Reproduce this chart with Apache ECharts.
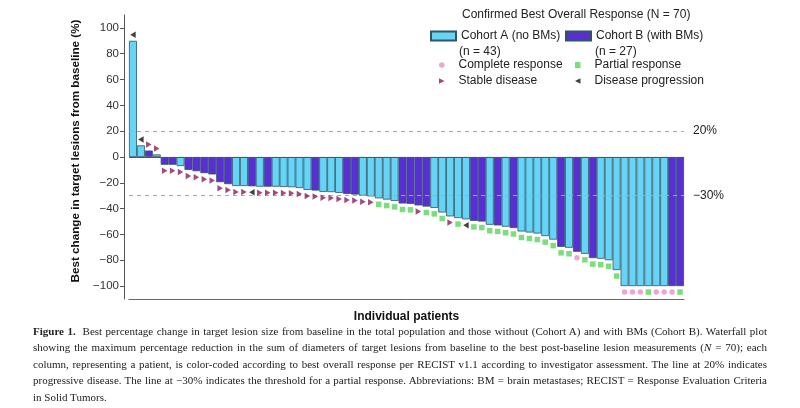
<!DOCTYPE html>
<html>
<head>
<meta charset="utf-8">
<script src="https://cdn.jsdelivr.net/npm/echarts@6/dist/echarts.min.js"></script>
<style>
  html, body { margin: 0; padding: 0; background: #fff; }
  #wrap { position: relative; width: 800px; height: 408px; overflow: hidden; }
  #chart { position: absolute; left: 0; top: 0; width: 800px; height: 408px; }
  #caption { position: absolute; left: 33px; top: 323px; width: 734px; font-family: "Liberation Serif", "DejaVu Serif", serif; font-size: 11px; line-height: 16.4px; color: #222; }
  #caption .l { text-align: justify; text-align-last: justify; white-space: normal; }
  #caption .last { text-align: left; }
</style>
</head>
<body>
<div id="wrap">
  <div id="chart"></div>
  <div id="caption">
    <div class="l"><b>Figure 1.</b>&nbsp; Best percentage change in target lesion size from baseline in the total population and those without (Cohort A) and with BMs (Cohort B). Waterfall plot</div>
    <div class="l">showing the maximum percentage reduction in the sum of diameters of target lesions from baseline to the best post-baseline lesion measurements (<i>N</i> = 70); each</div>
    <div class="l">column, representing a patient, is color-coded according to best overall response per RECIST v1.1 according to investigator assessment. The line at 20% indicates</div>
    <div class="l">progressive disease. The line at −30% indicates the threshold for a partial response. Abbreviations: BM = brain metastases; RECIST = Response Evaluation Criteria</div>
    <div class="last">in Solid Tumors.</div>
  </div>
</div>
<script>
// ---- Data ----
const bestChange = [
  90, 9, 5, 2, -6, -6, -7, -10, -11, -12.5,
  -13.5, -19.5, -21, -22.5, -22.5, -22.7, -23, -23, -23, -23.2,
  -23.4, -24, -25.5, -26, -27, -27.2, -27.8, -28.6, -29.1, -30,
  -30.5, -32, -33, -34, -36, -36.3, -37.5, -38.4, -39.4, -43,
  -46, -47.3, -48.3, -49.5, -50, -52.5, -53, -54, -55, -57.7,
  -58.5, -59.3, -61.3, -64, -69.6, -70.3, -73.4, -75, -78.3, -78.8,
  -80, -87.6, -100, -100, -100, -100, -100, -100, -100, -100
];
const cohort = [
  'A','A','B','A','B','B','A','B','B','B',
  'B','B','B','A','A','B','A','B','A','A',
  'A','A','A','B','A','A','A','B','B','A',
  'A','A','A','A','B','B','B','B','A','A',
  'A','A','A','B','B','A','B','A','B','A',
  'A','A','A','A','B','A','B','A','B','A',
  'A','A','A','A','A','A','A','A','B','B'
];
const response = [
  'PD','PD','SD','SD','SD','SD','SD','SD','SD','SD',
  'SD','SD','SD','SD','SD','PD','SD','SD','SD','SD',
  'SD','SD','SD','SD','SD','SD','SD','SD','SD','SD',
  'SD','PR','PR','PR','PR','PR','SD','PR','PR','PR',
  'SD','PR','PD','PR','PR','PR','PR','PR','PR','PR',
  'PR','PR','PR','PR','PR','PR','CR','PR','PR','PR',
  'PR','PR','CR','CR','CR','PR','CR','CR','CR','PR'
];
const yTicks = [-100, -80, -60, -40, -20, 0, 20, 40, 60, 80, 100];
const refLines = [20, -30];
const refLabels = ['20%', '\u221230%'];
const cohortNames = ['Cohort A (no BMs)', 'Cohort B (with BMs)'];
const cohortCounts = ['(n = 43)', '(n = 27)'];
const responseNames = { CR: 'Complete response', PR: 'Partial response', SD: 'Stable disease', PD: 'Disease progression' };

// ---- Styles ----
const colA = '#66d4f7', colB = '#5a2ed6';
const FONT = 'Liberation Sans, Arial';
const patients = bestChange.map((_, i) => String(i + 1));
const TRI_RIGHT = 'path://M0,0 L10,5 L0,10 Z';
const TRI_LEFT = 'path://M10,0 L0,5 L10,10 Z';

function barSeries(code, name, color) {
  return {
    name: name, type: 'bar', barGap: '-100%', barCategoryGap: '0%',
    data: bestChange.map((v, i) => cohort[i] === code ? v : '-'),
    itemStyle: { color: color, borderColor: '#2e5663', borderWidth: 0.8 },
    emphasis: { disabled: true },
    markLine: code === 'A' ? {
      silent: true, symbol: 'none',
      data: [
        { yAxis: 0, lineStyle: { type: 'solid', color: '#555', width: 1 }, label: { show: false } },
        ...refLines.map((v, k) => ({
          yAxis: v,
          lineStyle: { type: [4, 4], color: '#aaa', width: 1 },
          label: { show: true, position: 'end', formatter: refLabels[k], distance: 9, color: '#222', fontSize: 12, fontFamily: FONT }
        }))
      ]
    } : undefined,
    z: 2
  };
}

const markerStyle = {
  CR: { symbol: 'circle', size: 5.5, color: '#ec8fc6' },
  PR: { symbol: 'rect', size: 5.5, color: '#5cd35c' },
  SD: { symbol: TRI_RIGHT, size: [5.5, 6.5], color: '#8a1d5c' },
  PD: { symbol: TRI_LEFT, size: [5.5, 6.5], color: '#111' }
};

function markerSeries(code) {
  const st = markerStyle[code];
  return {
    name: responseNames[code], type: 'scatter',
    symbol: st.symbol, symbolSize: st.size,
    itemStyle: { color: st.color },
    emphasis: { disabled: true },
    data: bestChange.map((v, i) => response[i] === code
      ? { value: v, symbolOffset: [0, v >= 0 ? -6 : 6] } : '-'),
    z: 5
  };
}

function cohortLegend(name, left) {
  return {
    data: [{ name: name, icon: 'rect' }], left: left, top: 30, padding: 0,
    itemWidth: 25, itemHeight: 9, itemGap: 0, selectedMode: false,
    textStyle: { fontSize: 12, color: '#222', fontFamily: FONT }
  };
}
function markerLegend(code, left, top) {
  const st = markerStyle[code];
  return {
    data: [{ name: responseNames[code], icon: st.symbol }], left: left, top: top, padding: 0,
    itemWidth: 5.5, itemHeight: 6, itemGap: 0, selectedMode: false,
    textStyle: { fontSize: 12, color: '#222', fontFamily: FONT, padding: [0, 0, 0, 9] }
  };
}

const chart = echarts.init(document.getElementById('chart'), null, { renderer: 'canvas' });
chart.setOption({
  animation: false,
  backgroundColor: '#fff',
  title: {
    text: 'Confirmed Best Overall Response (N = 70)', left: 457, top: 4,
    textStyle: { fontSize: 12, fontWeight: 'normal', color: '#222', fontFamily: FONT }
  },
  legend: [
    cohortLegend(cohortNames[0], 430),
    cohortLegend(cohortNames[1], 565),
    markerLegend('CR', 439, 59),
    markerLegend('PR', 575, 59),
    markerLegend('SD', 439, 75),
    markerLegend('PD', 575, 75)
  ],
  graphic: [
    { type: 'text', left: 459, top: 46, style: { text: cohortCounts[0], fontSize: 12, fill: '#222', fontFamily: FONT } },
    { type: 'text', left: 595, top: 46, style: { text: cohortCounts[1], fontSize: 12, fill: '#222', fontFamily: FONT } }
  ],
  grid: { left: 129, right: 116, top: 15, bottom: 109 },
  xAxis: {
    type: 'category', data: patients, boundaryGap: true,
    name: 'Individual patients', nameLocation: 'middle', nameGap: 12,
    nameTextStyle: { fontSize: 12, fontWeight: 'bold', color: '#111', fontFamily: FONT },
    axisLine: { show: true, onZero: false, lineStyle: { color: '#666', width: 1 } },
    axisTick: { show: false }, axisLabel: { show: false }, splitLine: { show: false }
  },
  yAxis: {
    type: 'value', min: -110, max: 110, offset: 5,
    name: 'Best change in target lesions from baseline (%)', nameLocation: 'middle', nameGap: 31,
    nameTextStyle: { fontSize: 11.7, fontWeight: 'bold', color: '#111', fontFamily: FONT, padding: [0, 0, 0, 12] },
    axisLine: { show: true, lineStyle: { color: '#555', width: 1 } },
    axisTick: { show: true, customValues: yTicks, length: 4, lineStyle: { color: '#555' } },
    axisLabel: { customValues: yTicks, fontSize: 11.5, color: '#333', margin: 5, fontFamily: FONT,
      formatter: v => String(v).replace('-', '\u2212') },
    splitLine: { show: false }
  },
  series: [
    barSeries('A', cohortNames[0], colA),
    barSeries('B', cohortNames[1], colB),
    markerSeries('CR'), markerSeries('PR'), markerSeries('SD'), markerSeries('PD')
  ]
});
</script>
</body>
</html>
